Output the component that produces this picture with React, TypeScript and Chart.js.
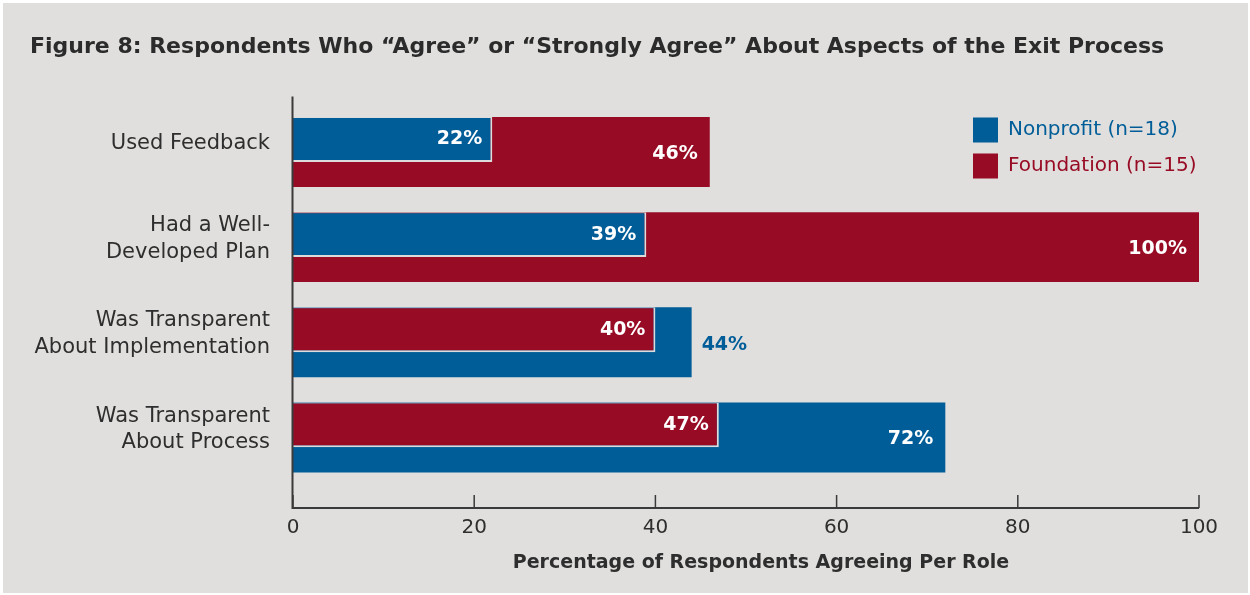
import React, { useEffect, useRef } from 'react';
import { Chart, registerables } from 'chart.js';

Chart.register(...registerables);

// ---------- data ----------
const titleText =
  'Figure 8: Respondents Who \u201CAgree\u201D or \u201CStrongly Agree\u201D About Aspects of the Exit Process';
const categories: string[][] = [
  ['Used Feedback'],
  ['Had a Well-', 'Developed Plan'],
  ['Was Transparent', 'About Implementation'],
  ['Was Transparent', 'About Process'],
];
const seriesNames = ['Nonprofit (n=18)', 'Foundation (n=15)'];
const nonprofitValues = [22, 39, 44, 72];
const foundationValues = [46, 100, 40, 47];
const xTickValues = [0, 20, 40, 60, 80, 100];
const xAxisTitle = 'Percentage of Respondents Agreeing Per Role';

// ---------- styles ----------
const BLUE = '#005d98';
const RED = '#980b24';
const seriesColors = [BLUE, RED];
const FONT = '"DejaVu Sans", sans-serif';
const TEXT = '#2e2e2e';

const seriesValues = [nonprofitValues, foundationValues];

// per category: shorter bar in front (top-aligned), longer bar behind (full band)
const frontIdx = categories.map((_, i) => (seriesValues[0][i] <= seriesValues[1][i] ? 0 : 1));
const backIdx = frontIdx.map((f) => 1 - f);
const frontData = categories.map((_, i) => seriesValues[frontIdx[i]][i]);
const backData = categories.map((_, i) => seriesValues[backIdx[i]][i]);
const frontColors = frontIdx.map((s) => seriesColors[s]);
const backColors = backIdx.map((s) => seriesColors[s]);

const backgroundPlugin = {
  id: 'pageBackground',
  beforeDraw(chart: any) {
    const { ctx, width, height } = chart;
    ctx.save();
    ctx.fillStyle = '#ffffff';
    ctx.fillRect(0, 0, width, height);
    ctx.fillStyle = '#e0dfdd';
    ctx.fillRect(3, 3, width - 5, height - 5);
    ctx.restore();
  },
};

const alignFrontPlugin = {
  id: 'alignFront',
  afterDatasetsUpdate(chart: any) {
    const fm = chart.getDatasetMeta(0);
    const bm = chart.getDatasetMeta(1);
    fm.data.forEach((el: any, i: number) => {
      const b: any = bm.data[i];
      el.y = b.y - b.height / 2 + el.height / 2;
    });
  },
};

const layoutTweakPlugin = {
  id: 'layoutTweak',
  afterLayout(chart: any) {
    const lg = chart.legend;
    if (lg) {
      const w = lg.width;
      lg.left = chart.chartArea.right - 237;
      lg.right = lg.left + w;
      lg.top = chart.chartArea.top + 2;
    }
    // nudge the x-axis title centre slightly right, as in the original
    const x = chart.scales.x;
    if (x) x.right += 30;
  },
};

const axesPlugin = {
  id: 'axisLines',
  afterDatasetsDraw(chart: any) {
    const { ctx, chartArea } = chart;
    const x = chart.scales.x;
    const x0 = x.getPixelForValue(0);
    const x1 = x.getPixelForValue(100);
    const axisY = chartArea.bottom + 23;
    ctx.save();
    ctx.strokeStyle = '#3a3a3a';
    ctx.lineWidth = 2;
    ctx.beginPath();
    ctx.moveTo(x0 - 0.5, chartArea.top - 8);
    ctx.lineTo(x0 - 0.5, axisY);
    ctx.lineTo(x1, axisY);
    ctx.stroke();
    ctx.lineWidth = 1.5;
    x.ticks.forEach((t: any) => {
      const px = x.getPixelForValue(t.value);
      ctx.beginPath();
      ctx.moveTo(px, axisY);
      ctx.lineTo(px, axisY - 13);
      ctx.stroke();
    });
    ctx.restore();
  },
};

const valueLabelsPlugin = {
  id: 'valueLabels',
  afterDatasetsDraw(chart: any) {
    const ctx = chart.ctx;
    const fm = chart.getDatasetMeta(0);
    const bm = chart.getDatasetMeta(1);
    ctx.save();
    ctx.font = `700 19px ${FONT}`;
    ctx.textBaseline = 'middle';
    categories.forEach((_, i) => {
      const f: any = fm.data[i];
      const b: any = bm.data[i];
      ctx.fillStyle = '#ffffff';
      ctx.textAlign = 'right';
      ctx.fillText(`${frontData[i]}%`, f.x - 10, f.y);
      if (b.x - f.x > 60) {
        ctx.fillText(`${backData[i]}%`, b.x - 12, b.y + 2);
      } else {
        ctx.fillStyle = backColors[i];
        ctx.textAlign = 'left';
        ctx.fillText(`${backData[i]}%`, b.x + 10, b.y + 3);
      }
    });
    ctx.restore();
  },
};

export default function App() {
  const ref = useRef<HTMLCanvasElement>(null);

  useEffect(() => {
    if (!ref.current) return;
    Chart.defaults.font.family = FONT;
    const chart = new Chart(ref.current, {
      type: 'bar',
      data: {
        labels: categories,
        datasets: [
          {
            label: 'front',
            data: frontData,
            backgroundColor: frontColors,
            borderColor: '#dcdcdc',
            borderWidth: { top: 1, right: 2, bottom: 2, left: 0 },
            borderSkipped: false,
            categoryPercentage: 1,
            barPercentage: 0.472,
            grouped: false,
          },
          {
            label: 'back',
            data: backData,
            backgroundColor: backColors,
            borderWidth: 0,
            categoryPercentage: 1,
            barPercentage: 0.735,
            grouped: false,
          },
        ],
      },
      options: {
        indexAxis: 'y',
        animation: false,
        responsive: false,
        devicePixelRatio: 1,
        layout: { padding: { left: 30, right: 51, top: 0, bottom: 0 } },
        scales: {
          y: {
            type: 'category',
            offset: true,
            grid: { display: false, drawTicks: false },
            border: { display: false },
            ticks: {
              padding: 23,
              labelOffset: -8,
              color: TEXT,
              font: { family: FONT, size: 21, lineHeight: 1.27 },
            },
            afterFit(scale: any) {
              scale.width = 263;
            },
          },
          x: {
            type: 'linear',
            min: 0,
            max: 100,
            grid: { display: false, drawTicks: false },
            border: { display: false },
            ticks: {
              padding: 31,
              color: TEXT,
              font: { family: FONT, size: 20 },
            },
            afterBuildTicks(scale: any) {
              scale.ticks = xTickValues.map((v) => ({ value: v }));
            },
            afterFit(scale: any) {
              scale.height = 110;
            },
            title: {
              display: true,
              text: xAxisTitle,
              color: TEXT,
              font: { family: FONT, size: 19, weight: '700' },
              padding: { top: 0, bottom: 21 },
            },
          },
        },
        plugins: {
          title: {
            display: true,
            text: titleText,
            align: 'start',
            color: '#2b2b2b',
            font: { family: FONT, size: 22, weight: '700', lineHeight: 1.2 },
            padding: { top: 34, bottom: 44 },
          },
          legend: {
            position: 'chartArea',
            align: 'start',
            labels: {
              boxWidth: 25,
              boxHeight: 25,
              padding: 11,
              font: { family: FONT, size: 20 },
              generateLabels: () =>
                seriesNames.map((name, i) => ({
                  text: name,
                  fillStyle: seriesColors[i],
                  strokeStyle: seriesColors[i],
                  fontColor: seriesColors[i],
                  lineWidth: 0,
                  hidden: false,
                  datasetIndex: i,
                })),
            },
          },
          tooltip: { enabled: false },
        },
      },
      plugins: [backgroundPlugin, alignFrontPlugin, layoutTweakPlugin, axesPlugin, valueLabelsPlugin],
    } as any);
    return () => chart.destroy();
  }, []);

  return (
    <div style={{ position: 'fixed', left: 0, top: 0, width: 1250, height: 595 }}>
      <canvas ref={ref} width={1250} height={595} style={{ display: 'block', width: 1250, height: 595 }} />
    </div>
  );
}
